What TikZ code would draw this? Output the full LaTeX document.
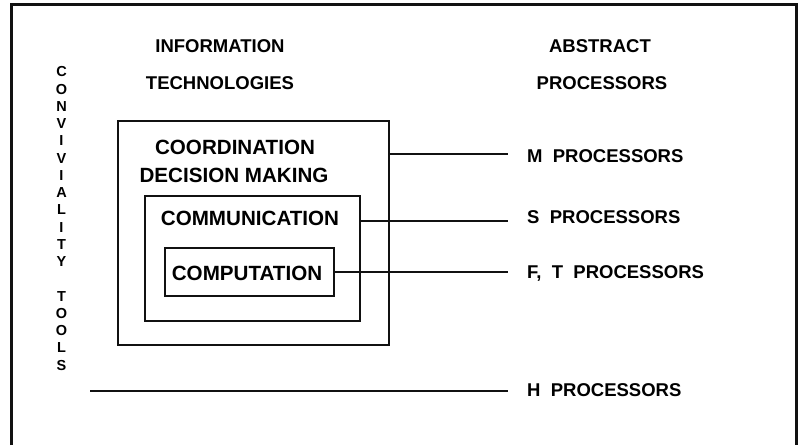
\documentclass[tikz,border=0pt]{standalone}
\usepackage{fontspec}
\setmainfont{Liberation Sans}
\usepackage{tikz}
\usetikzlibrary{positioning,calc}
\definecolor{ink}{HTML}{111111}
\tikzset{
  layer/.style = {rectangle, draw=ink, line width=1.2pt, inner sep=0pt},
  hdr/.style   = {font=\fontsize{18.5}{20}\selectfont\bfseries, inner sep=0pt},
  boxtxt/.style= {font=\fontsize{20.6}{22}\selectfont\bfseries, inner sep=0pt},
  proc/.style  = {font=\fontsize{18.5}{20}\selectfont\bfseries, inner ysep=0pt, inner xsep=19pt,
                  anchor=west},
  vlet/.style  = {font=\fontsize{14.5}{14}\selectfont\bfseries, inner sep=0pt},
  wire/.style  = {draw=ink, line width=1.1pt},
}

\begin{document}
\begin{tikzpicture}[x=1pt, y=-1pt]
  \useasboundingbox (0,0) rectangle (799,445);
  \draw[draw=ink, line width=3pt] (11,445) -- (11,4) -- (796,4) -- (796,445);

  % column heads
  \node[hdr] (info)  at (220,46) {INFORMATION};
  \node[hdr] (tech)  at (220,83) {TECHNOLOGIES};
  \node[hdr] (abstr) at (600,46) {ABSTRACT};
  \node[hdr] (procs) at (602,83) {PROCESSORS};

  % side caption, one letter per slot
  \foreach \l [count=\i from 0] in {C,O,N,V,I,V,I,A,L,I,T,Y} {
    \node[vlet] (cv\i) at (61.5,72+\i*17.25) {\l};
  }
  \foreach \l [count=\i from 13] in {T,O,O,L,S} {
    \node[vlet] (tl\i) at (61.5,72+\i*17.25) {\l};
  }

  % nested layers
  \node[layer, minimum width=271pt, minimum height=224pt] (outer)  at (253.5,233)   {};
  \node[layer, minimum width=215pt, minimum height=125pt] (middle) at (252.5,258.5) {};
  \node[layer, minimum width=169pt, minimum height=48pt]  (inner)  at (249.5,272)   {};
  \node[boxtxt] (coord) at (235,147) {COORDINATION};
  \node[boxtxt] (decis) at (234,175) {DECISION MAKING};
  \node[boxtxt] (comm)  at (250,218) {COMMUNICATION};
  \node[boxtxt] (comp)  at (247,273) {COMPUTATION};

  % processors
  \node[proc] (mproc)  at (508,156) {M\ \ PROCESSORS};
  \node[proc] (sproc)  at (508,217) {S\ \ PROCESSORS};
  \node[proc] (ftproc) at (508,273) {F,\ \ T\ \ PROCESSORS};
  \node[proc] (hproc)  at (508,390) {H\ \ PROCESSORS};
  \coordinate (hstart) at (90,391);

  \draw[wire] (outer.east |- 0,154) -- (mproc.west |- 0,154);
  \draw[wire] (middle.east |- 0,221) -- (sproc.west |- 0,221);
  \draw[wire] (inner.east) -- (ftproc.west |- inner.east);
  \draw[wire] (hstart) -- (hproc.west |- hstart);
\end{tikzpicture}
\end{document}
